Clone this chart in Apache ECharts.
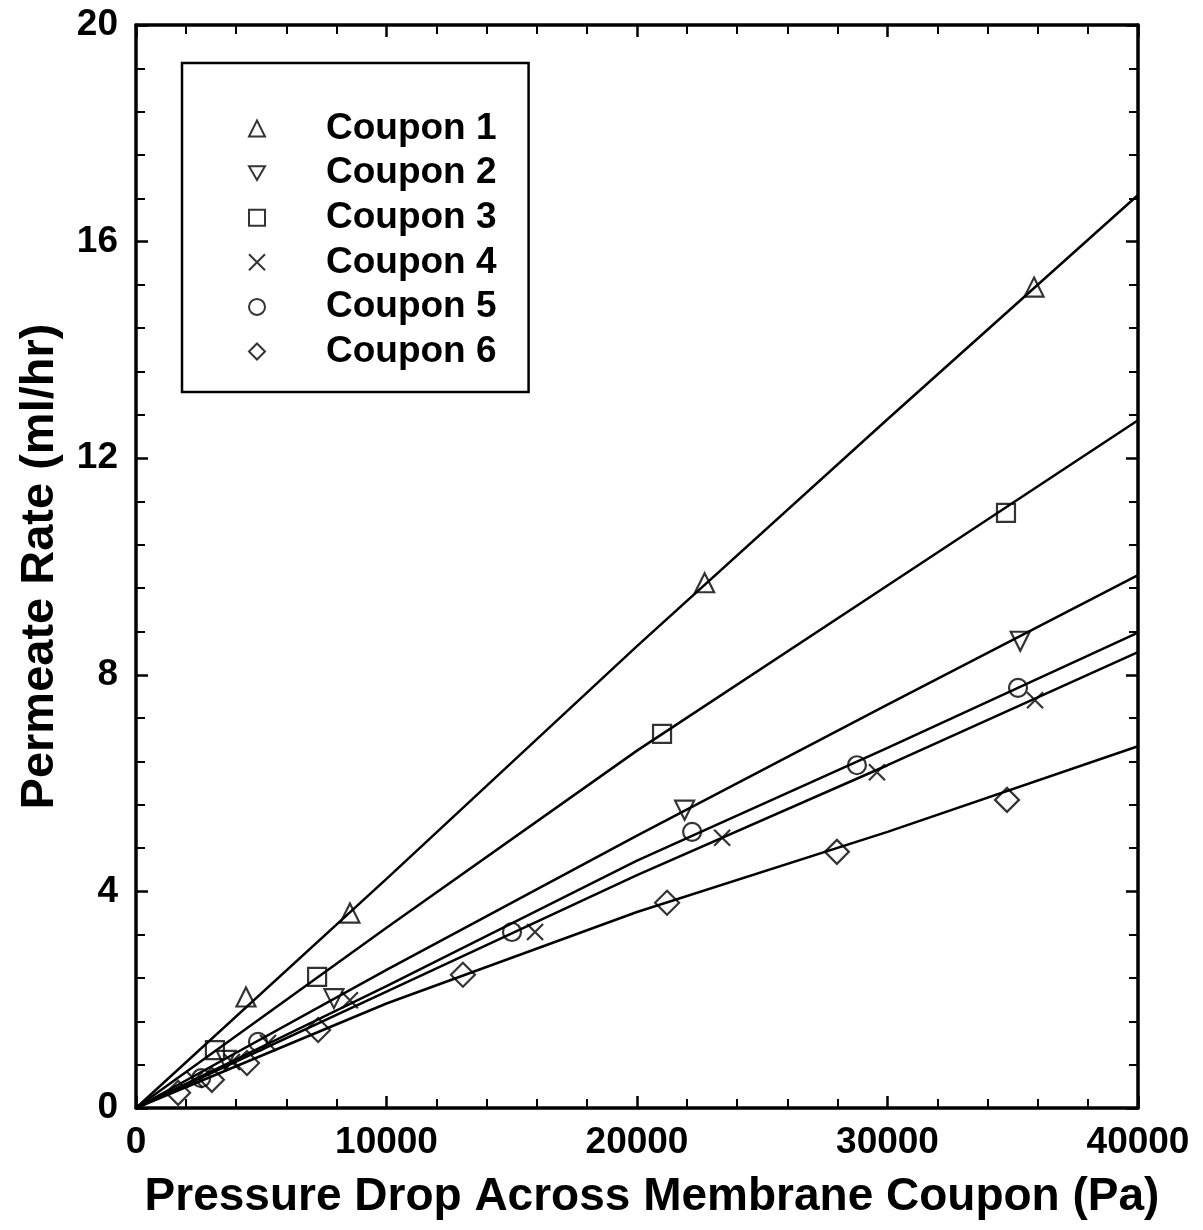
<!DOCTYPE html>
<html><head><meta charset="utf-8">
<script src="https://cdn.jsdelivr.net/npm/echarts@6/dist/echarts.min.js"></script>
<style>html,body{margin:0;padding:0;background:#fff}#c{width:1203px;height:1230px}</style>
</head><body><div id="c"></div>
<script>
// Measured points [pressure drop (Pa), permeate rate (ml/hr)]
const coupon1 = [[4390, 2.05], [8540, 3.60], [22700, 9.70], [35850, 15.16]];
const coupon2 = [[3600, 0.88], [7900, 2.02], [21900, 5.50], [35300, 8.62]];
const coupon3 = [[3150, 1.07], [7230, 2.42], [21000, 6.91], [34730, 10.99]];
const coupon4 = [[2350, 0.52], [3830, 0.85], [5270, 1.20], [8540, 1.99], [15930, 3.25], [23400, 4.99], [29580, 6.20], [35890, 7.53]];
const coupon5 = [[2600, 0.55], [4870, 1.22], [15010, 3.25], [22200, 5.10], [28780, 6.33], [35210, 7.76]];
const coupon6 = [[1680, 0.28], [3030, 0.52], [4430, 0.83], [7270, 1.44], [13050, 2.46], [21200, 3.79], [27980, 4.73], [34770, 5.69]];
// Fitted curves at x = 0, 10000, 20000, 30000, 40000
const fitX = [0, 10000, 20000, 30000, 40000];
const fit1 = [0, 4.23, 8.53, 12.72, 16.86];
const fit2 = [0, 2.55, 5.03, 7.45, 9.84];
const fit3 = [0, 3.33, 6.60, 9.65, 12.70];
const fit4 = [0, 2.15, 4.30, 6.33, 8.42];
const fit5 = [0, 2.25, 4.57, 6.65, 8.78];
const fit6 = [0, 1.93, 3.62, 5.10, 6.68];
const names = ['Coupon 1', 'Coupon 2', 'Coupon 3', 'Coupon 4', 'Coupon 5', 'Coupon 6'];

const FONT = "'Liberation Sans',Arial,sans-serif";
const crossPath = 'path://M0,0L10,10M10,0L0,10';
const triDown = 'path://M0,0L10,0L5,8.66Z';
const diamond = 'path://M5,0L10,5L5,10L0,5Z';
const symbols = [
  {symbol: 'triangle', size: 19},
  {symbol: triDown, size: 19},
  {symbol: 'rect', size: 18},
  {symbol: crossPath, size: 16},
  {symbol: 'circle', size: 18},
  {symbol: diamond, size: 24}
];
const legendIcons = ['triangle', triDown, 'rect', crossPath, 'circle', diamond];
const pts = [coupon1, coupon2, coupon3, coupon4, coupon5, coupon6];
const fits = [fit1, fit2, fit3, fit4, fit5, fit6];

const series = [];
fits.forEach((f, i) => {
  series.push({
    name: 'fit' + (i + 1), type: 'line', showSymbol: false, symbol: 'none',
    data: fitX.map((x, k) => [x, f[k]]),
    lineStyle: {color: '#000', width: 2.5}, silent: true, z: 2
  });
});
pts.forEach((p, i) => {
  series.push({
    name: names[i], type: 'scatter', data: p,
    symbol: symbols[i].symbol, symbolSize: symbols[i].size,
    itemStyle: {color: 'rgba(255,255,255,0)', borderColor: '#000', borderWidth: 2.2}, z: 3
  });
});

const tickCommon = {show: true, inside: true, length: 12, lineStyle: {color: '#000', width: 2.5}};
const minorCommon = {show: true, splitNumber: 5, length: 9, lineStyle: {color: '#000', width: 2}};
const plain = v => String(Math.round(v));

const chart = echarts.init(document.getElementById('c'), null, {renderer: 'canvas'});
chart.setOption({
  animation: false,
  backgroundColor: '#fff',
  grid: {left: 136, right: 65, top: 25, bottom: 122, containLabel: false, outerBoundsMode: 'none'},
  legend: {
    data: names.map((n, i) => ({name: n, icon: legendIcons[i],
      itemStyle: {color: 'rgba(255,255,255,0)', borderColor: '#000', borderWidth: 2}})),
    orient: 'vertical', left: 182, top: 63,
    padding: [47, 32, 22, 66],
    itemWidth: 16, itemHeight: 16, itemGap: 7.6,
    backgroundColor: '#fff', borderColor: '#000', borderWidth: 2.5,
    textStyle: {fontFamily: FONT, fontWeight: 'bold', fontSize: 37, color: '#000', padding: [0, 0, 0, 56], lineHeight: 34}
  },
  xAxis: [{
    type: 'value', min: 0, max: 40000, interval: 10000, position: 'bottom',
    axisLine: {show: true, onZero: false, lineStyle: {color: '#000', width: 3.5}},
    axisTick: tickCommon, minorTick: minorCommon, splitLine: {show: false},
    axisLabel: {color: '#000', fontFamily: FONT, fontWeight: 'bold', fontSize: 37, margin: 16, formatter: plain},
    name: 'Pressure Drop Across Membrane Coupon (Pa)', nameLocation: 'middle', nameGap: 66,
    nameTextStyle: {color: '#000', fontFamily: FONT, fontWeight: 'bold', fontSize: 46, padding: [0, 0, 0, 30]}
  }, {
    type: 'value', min: 0, max: 40000, interval: 10000, position: 'top',
    axisLine: {show: true, onZero: false, lineStyle: {color: '#000', width: 3.5}},
    axisTick: tickCommon, minorTick: minorCommon, splitLine: {show: false}, axisLabel: {show: false}
  }],
  yAxis: [{
    type: 'value', min: 0, max: 20, interval: 4, position: 'left',
    axisLine: {show: true, onZero: false, lineStyle: {color: '#000', width: 3.5}},
    axisTick: tickCommon, minorTick: minorCommon, splitLine: {show: false},
    axisLabel: {color: '#000', fontFamily: FONT, fontWeight: 'bold', fontSize: 37, margin: 18, formatter: plain},
    name: 'Permeate Rate (ml/hr)', nameLocation: 'middle', nameGap: 72, nameRotate: 90,
    nameTextStyle: {color: '#000', fontFamily: FONT, fontWeight: 'bold', fontSize: 47}
  }, {
    type: 'value', min: 0, max: 20, interval: 4, position: 'right',
    axisLine: {show: true, onZero: false, lineStyle: {color: '#000', width: 3.5}},
    axisTick: tickCommon, minorTick: minorCommon, splitLine: {show: false}, axisLabel: {show: false}
  }],
  series: series
});
</script></body></html>
